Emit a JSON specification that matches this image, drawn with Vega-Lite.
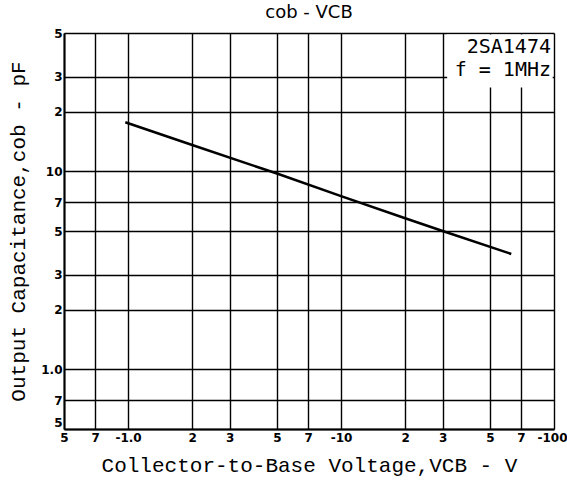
{
  "$schema": "https://vega.github.io/schema/vega-lite/v6.json",
  "autosize": "none",
  "width": 490,
  "height": 396,
  "padding": {"left": 64, "top": 33, "right": 13, "bottom": 60},
  "background": "white",
  "title": {"text": "cob - VCB", "font": "DejaVu Sans", "fontSize": 18, "fontWeight": "normal", "color": "black", "offset": 5, "anchor": "middle"},
  "config": {
    "view": {"stroke": null},
    "axis": {
      "domainColor": "black", "domainWidth": 2, "gridColor": "black", "gridWidth": 1.4, "gridOpacity": 1,
      "ticks": false, "labelColor": "black", "labelFont": "DejaVu Sans", "labelFontSize": 12, "labelFontWeight": "bold",
      "titleFont": "Liberation Mono", "titleFontSize": 21, "titleFontWeight": "normal", "titleColor": "black"
    }
  },
  "layer": [
    {
      "data": {"values": [
        {"v": 0.97, "c": 17.7},
        {"v": 2, "c": 13.6},
        {"v": 5, "c": 9.75},
        {"v": 10, "c": 7.5},
        {"v": 20, "c": 5.8},
        {"v": 30, "c": 5.0},
        {"v": 63, "c": 3.83}
      ]},
      "mark": {"type": "line", "color": "black", "strokeWidth": 2.6},
      "encoding": {
        "x": {"field": "v", "type": "quantitative",
          "scale": {"type": "log", "domain": [0.5, 100], "nice": false},
          "axis": {"title": "Collector-to-Base Voltage,VCB - V", "values": [0.5,0.7,1,2,3,5,7,10,20,30,50,70,100],
            "labelExpr": "datum.value==1?'-1.0':datum.value==10?'-10':datum.value==100?'-100':toString(round(datum.value<1?datum.value*10:datum.value>10?datum.value/10:datum.value))",
            "labelAlign": {"expr": "datum.value==100?'right':'center'"},
            "labelOffset": {"expr": "datum.value==100?13:0"},
            "labelPadding": 3, "titlePadding": 11, "labelFlush": false, "labelOverlap": false}},
        "y": {"field": "c", "type": "quantitative",
          "scale": {"type": "log", "domain": [0.5, 50], "nice": false},
          "axis": {"title": "Output Capacitance,cob - pF", "values": [0.5,0.7,1,2,3,5,7,10,20,30,50],
            "labelExpr": "datum.value==1?'1.0':datum.value==10?'10':toString(round(datum.value<1?datum.value*10:datum.value>10?datum.value/10:datum.value))",
            "labelBaseline": {"expr": "datum.value==0.5?'bottom':'middle'"},
            "labelPadding": 2, "titlePadding": 12, "labelFlush": false, "labelOverlap": false}}
      }
    },
    {
      "data": {"values": [{"x1": 31.5, "x2": 98.6, "y1": 26.5, "y2": 49.2}]},
      "mark": {"type": "rect", "color": "white"},
      "encoding": {
        "x": {"field": "x1", "type": "quantitative"},
        "x2": {"field": "x2"},
        "y": {"field": "y1", "type": "quantitative"},
        "y2": {"field": "y2"}
      }
    },
    {
      "data": {"values": [{"x": 100, "y": 42.5, "t": "2SA1474"}, {"x": 100, "y": 32.6, "t": "f = 1MHz"}]},
      "mark": {"type": "text", "align": "right", "baseline": "middle", "dx": -3, "font": "DejaVu Sans Mono", "fontSize": 20, "color": "black"},
      "encoding": {
        "x": {"field": "x", "type": "quantitative"},
        "y": {"field": "y", "type": "quantitative"},
        "text": {"field": "t"}
      }
    }
  ]
}
